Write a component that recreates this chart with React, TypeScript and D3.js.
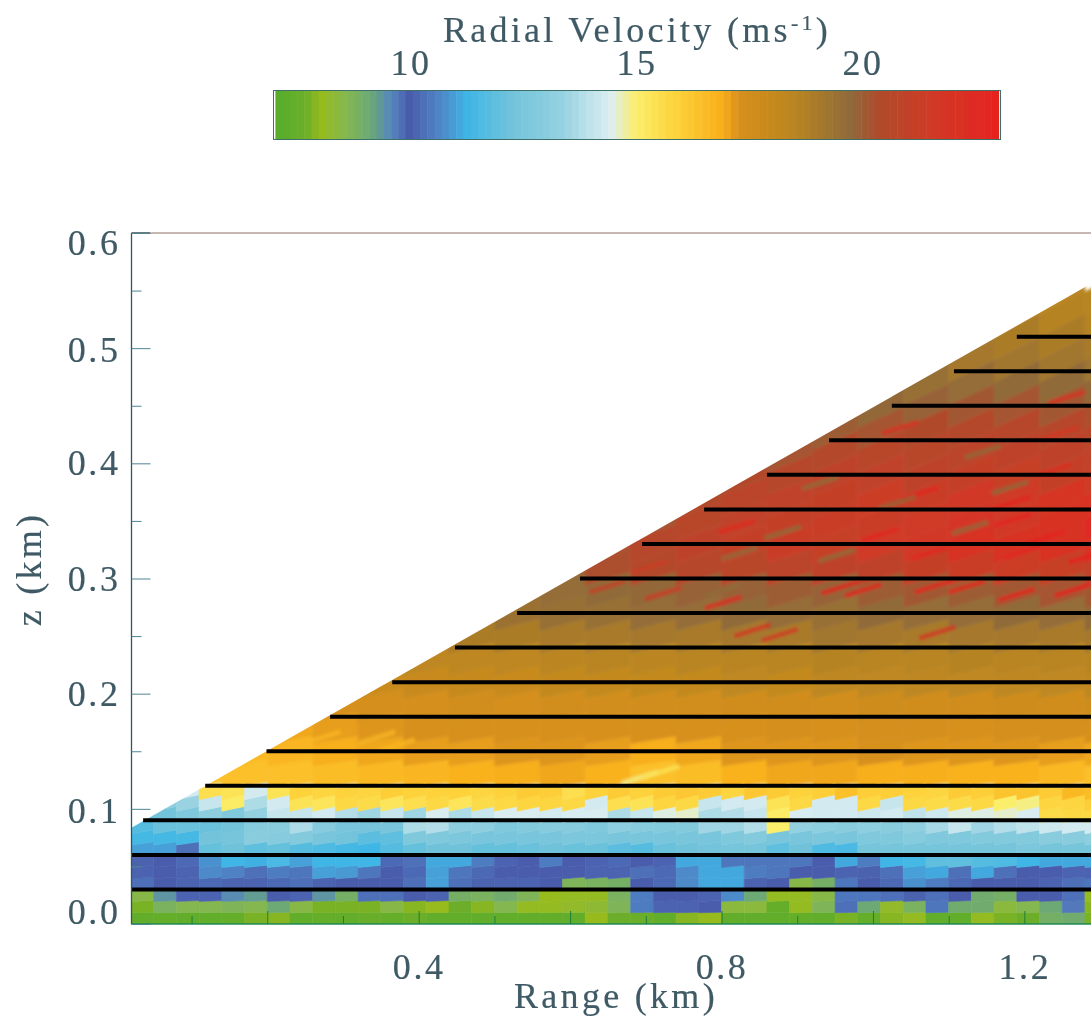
import React, { useEffect, useRef } from 'react';
import * as d3 from 'd3';

const WIDTH = 1091;
const HEIGHT = 1017;

// colour table
const cbStops = [7, 7.6, 7.91, 8.47, 9.04, 9.49, 9.88, 10.5, 11.18, 12.08, 13.2, 14.34, 14.9, 15.8, 16.82, 17.16, 18.4, 19.64, 20.3, 21.45, 22.9];
const cbColors = ['#58ad2c', '#6cae2a', '#98bb1a', '#85b84e', '#6aa878', '#5585c0', '#4a5cab', '#4f82c4', '#3fb6e6', '#6fc2da', '#93d0e0', '#dceef2', '#fbee6a', '#fdd23a', '#f8ae1a', '#d8901e', '#b98520', '#8f6a3a', '#b04a2c', '#d03a26', '#e6231f'];
const cbTicks = [10, 15, 20];

const xMajor = [0.2, 0.4, 0.6, 0.8, 1.0, 1.2];
const xMinor = [0.1, 0.3, 0.5, 0.7, 0.9, 1.1, 1.3];
const xLabels = [0.4, 0.8, 1.2];
const yMajor = [0, 0.1, 0.2, 0.3, 0.4, 0.5, 0.6];
const yMinor = [0.05, 0.15, 0.25, 0.35, 0.45, 0.55];
const yLabelShift = [-12, 2, 0, 0, 0, 2, 10];

// flight legs: height and where each one starts
const legZ = [0.03, 0.06, 0.09, 0.12, 0.15, 0.18, 0.21, 0.24, 0.27, 0.3, 0.33, 0.36, 0.39, 0.42, 0.45, 0.48, 0.51];
const legStart = [0.02, 0.02, 0.036, 0.118, 0.199, 0.283, 0.365, 0.448, 0.53, 0.613, 0.695, 0.777, 0.86, 0.942, 1.025, 1.107, 1.19];

const edgeRange = [0.02, 1.288];
const edgeZ = [0.0833, 0.556];

// low part: 0.03 km range bins, 0.01 km rows, bottom row first
const lowRangeStep = 0.03;
const lowZStep = 0.01;
const lowRows = [
  [7.3, 7.4, 7.3, 7.3, 7.4, 7.7, 7.8, 7.3, 7.4, 7.3, 7.5, 7.4, 7.6, 7.3, 7.3, 7.3, 7.3, 7.3, 7.3, 7.3, 7.9, 7.6, 7.6, 7.3, 7.8, 7.9, 7.3, 7.3, 7.3, 7.4, 7.3, 7.7, 7.4, 7.8, 8.0, 7.3, 7.3, 8.0, 7.7, 7.6, 8.8, 8.9, 7.7],
  [7.7, 8.7, 8.5, 8.5, 8.6, 8.5, 9.0, 8.4, 7.7, 7.7, 7.7, 8.4, 7.8, 7.9, 7.6, 7.8, 8.5, 8.0, 8.0, 8.1, 8.2, 8.6, 10.4, 10.0, 10.0, 9.9, 8.3, 8.3, 7.4, 8.0, 8.6, 10.2, 9.0, 8.1, 8.7, 10.3, 8.9, 8.9, 8.3, 8.5, 9.0, 9.6, 7.8],
  [8.4, 9.3, 10.0, 10.0, 9.4, 9.2, 9.9, 10.0, 9.3, 8.8, 10.2, 10.2, 9.9, 10.0, 8.8, 8.7, 8.9, 8.6, 7.9, 8.0, 8.0, 8.7, 10.4, 9.9, 9.9, 10.0, 10.6, 9.0, 8.0, 8.0, 8.4, 10.3, 10.3, 10.2, 9.8, 10.2, 9.9, 8.9, 8.8, 9.9, 9.9, 10.2, 8.0],
  [10.2, 9.9, 10.0, 10.1, 10.0, 10.0, 10.1, 10.2, 10.0, 9.9, 9.9, 9.9, 10.2, 10.9, 10.2, 10.0, 10.0, 10.0, 9.9, 8.6, 8.7, 8.8, 9.9, 10.1, 10.6, 11.0, 11.0, 10.0, 9.9, 8.4, 8.8, 10.3, 9.9, 10.1, 10.7, 10.4, 10.1, 9.9, 9.9, 9.9, 10.0, 10.2, 10.3],
  [10.0, 9.9, 10.0, 10.6, 10.5, 10.2, 10.4, 10.3, 10.9, 10.8, 10.3, 9.9, 10.1, 10.9, 10.3, 10.1, 9.9, 9.9, 9.9, 9.9, 10.0, 10.0, 10.2, 10.1, 10.6, 11.0, 11.0, 10.4, 10.3, 9.9, 9.9, 10.0, 9.8, 10.2, 10.9, 11.0, 10.2, 11.0, 10.2, 9.9, 9.9, 10.0, 10.0],
  [9.8, 9.9, 10.1, 10.7, 11.2, 11.1, 11.4, 10.9, 11.2, 11.2, 11.2, 10.1, 10.2, 11.0, 11.0, 10.4, 10.0, 9.9, 10.4, 9.9, 10.0, 10.1, 9.9, 10.0, 11.0, 11.0, 10.3, 10.3, 10.3, 10.3, 9.9, 11.0, 10.4, 11.2, 11.3, 11.8, 11.8, 11.6, 11.5, 11.2, 11.0, 11.0, 11.0],
  [10.9, 10.9, 10.2, 11.9, 12.1, 11.8, 11.9, 11.6, 11.5, 11.3, 11.2, 11.6, 11.9, 12.1, 12.1, 11.9, 11.9, 12.0, 12.1, 12.0, 12.0, 11.7, 11.6, 12.0, 12.1, 12.2, 12.3, 12.3, 11.8, 12.1, 11.5, 11.4, 12.3, 12.3, 12.3, 12.3, 12.3, 12.3, 12.3, 12.5, 12.3, 12.3, 12.3],
  [11.3, 11.3, 11.3, 12.2, 12.3, 12.9, 12.8, 12.7, 12.4, 12.2, 11.7, 11.8, 12.6, 12.6, 12.5, 12.4, 12.4, 12.4, 12.4, 12.5, 12.5, 12.4, 12.4, 12.4, 12.4, 12.4, 12.6, 12.7, 12.4, 12.4, 12.5, 12.4, 12.6, 12.6, 12.8, 12.6, 12.6, 12.7, 12.7, 12.7, 12.9, 12.9, 13.0],
  [11.6, 12.0, 12.0, 12.0, 12.2, 12.8, 12.9, 13.6, 12.8, 12.4, 12.3, 12.4, 13.6, 13.7, 13.0, 13.0, 12.6, 12.7, 12.8, 12.8, 12.6, 13.0, 12.8, 12.7, 12.7, 13.4, 13.4, 13.7, 14.9, 13.2, 13.0, 12.9, 13.0, 12.9, 13.1, 13.5, 14.0, 13.4, 13.7, 13.9, 14.1, 14.2, 14.2],
  [12.0, 12.2, 12.6, 13.0, 12.6, 13.2, 14.0, 14.0, 14.2, 13.7, 13.4, 14.0, 13.4, 14.3, 13.6, 14.0, 14.3, 14.3, 14.2, 14.3, 14.3, 13.6, 14.0, 14.4, 14.5, 13.6, 13.7, 14.0, 15.0, 14.3, 14.2, 14.2, 14.1, 14.2, 13.9, 14.1, 14.4, 14.4, 14.5, 14.3, 15.5, 15.6, 15.6],
  [null, 13.0, 13.3, 14.0, 15.0, 13.6, 14.2, 15.3, 15.2, 15.6, 15.5, 15.2, 15.4, 15.6, 15.2, 15.5, 15.6, 15.7, 15.7, 15.6, 14.2, 15.4, 15.3, 15.7, 15.6, 14.0, 14.2, 14.2, 15.3, 15.6, 14.2, 14.2, 15.6, 14.0, 15.6, 15.5, 15.5, 15.6, 14.9, 14.8, 15.7, 15.7, 15.9],
  [null, null, 14.2, 15.4, 15.3, 14.2, 15.3, 15.8, 15.7, 15.8, 15.7, 15.9, 15.8, 15.8, 15.8, 15.7, 15.8, 16.0, 15.9, 15.4, 15.8, 16.0, 15.8, 16.0, 16.1, 16.0, 15.7, 16.1, 16.0, 15.8, 15.9, 16.3, 15.9, 15.9, 15.8, 15.7, 16.0, 15.9, 16.2, 16.2, 16.0, 16.5, 16.4],
];

// upper part: 0.06 km range bins, 0.02 km rows from z = 0.12
const upRangeStep = 0.06;
const upZStep = 0.02;
const upZStart = 0.12;
const upRows = [
  [16.2, 16.2, 16.3, 16.3, 16.4, 16.5, 16.6, 16.7, 16.8, 16.9, 16.7, 16.3, 16.4, 16.7, 16.9, 16.9, 16.8, 16.8, 16.7, 16.7, 16.5, 16.3],
  [null, 16.4, 16.5, 16.6, 16.8, 16.9, 17.0, 17.0, 17.1, 17.1, 17.0, 16.8, 16.9, 17.1, 17.1, 17.1, 17.2, 17.1, 17.1, 17.1, 17.0, 16.9],
  [null, null, 16.8, 16.9, 17.0, 17.1, 17.2, 17.2, 17.2, 17.2, 17.2, 17.2, 17.2, 17.2, 17.3, 17.2, 17.3, 17.3, 17.2, 17.3, 17.3, 17.2],
  [null, null, null, 17.2, 17.2, 17.3, 17.3, 17.4, 17.3, 17.4, 17.4, 17.4, 17.4, 17.5, 17.5, 17.4, 17.6, 17.5, 17.5, 17.6, 17.5, 17.6],
  [null, null, null, null, 17.6, 17.7, 17.8, 17.9, 17.8, 18.0, 18.0, 18.0, 18.0, 18.1, 18.0, 18.2, 18.1, 18.2, 18.1, 18.2, 18.1, 18.2],
  [null, null, null, null, null, 18.1, 18.2, 18.2, 18.2, 18.3, 18.4, 18.3, 18.4, 18.4, 18.4, 18.5, 18.4, 18.4, 18.5, 18.4, 18.4, 18.4],
  [null, null, null, null, null, null, 18.7, 18.8, 18.8, 18.9, 18.9, 19.0, 18.9, 19.0, 18.9, 19.1, 19.0, 18.9, 19.0, 19.0, 18.9, 19.0],
  [null, null, null, null, null, null, 19.2, 19.3, 19.3, 19.4, 19.4, 19.5, 19.5, 19.6, 19.5, 19.4, 19.6, 19.5, 19.5, 19.6, 19.5, 19.6],
  [null, null, null, null, null, null, null, 19.4, 19.5, 19.5, 19.6, 19.7, 19.8, 19.8, 19.9, 19.8, 19.9, 20.0, 19.9, 20.0, 20.1, 20.0],
  [null, null, null, null, null, null, null, null, 19.8, 20.0, 20.2, 20.4, 20.5, 20.6, 20.7, 20.8, 20.8, 21.0, 21.2, 21.3, 21.1, 20.9],
  [null, null, null, null, null, null, null, null, null, 19.9, 20.2, 20.5, 20.8, 21.0, 21.2, 21.1, 21.4, 21.5, 21.9, 22.0, 21.9, 22.0],
  [null, null, null, null, null, null, null, null, null, null, 19.8, 20.1, 20.6, 20.9, 21.0, 21.2, 21.2, 21.4, 21.7, 21.6, 21.9, 22.4],
  [null, null, null, null, null, null, null, null, null, null, null, 19.9, 20.3, 20.7, 20.9, 21.0, 21.3, 21.2, 21.5, 21.4, 21.8, 22.0],
  [null, null, null, null, null, null, null, null, null, null, null, null, 19.9, 20.3, 20.5, 20.8, 20.9, 20.8, 21.0, 21.1, 21.0, 21.3],
  [null, null, null, null, null, null, null, null, null, null, null, null, null, 19.8, 20.1, 20.4, 20.6, 20.6, 20.7, 20.8, 20.8, 20.9],
  [null, null, null, null, null, null, null, null, null, null, null, null, null, null, 19.7, 19.9, 20.1, 20.3, 20.4, 20.5, 20.5, 20.6],
  [null, null, null, null, null, null, null, null, null, null, null, null, null, null, null, 19.5, 19.7, 19.8, 20.0, 20.1, 20.0, 20.2],
  [null, null, null, null, null, null, null, null, null, null, null, null, null, null, null, null, 19.2, 19.4, 19.5, 19.6, 19.6, 19.7],
  [null, null, null, null, null, null, null, null, null, null, null, null, null, null, null, null, null, 18.9, 19.0, 19.1, 19.1, 19.2],
  [null, null, null, null, null, null, null, null, null, null, null, null, null, null, null, null, null, null, 18.6, 18.8, 18.8, 18.9],
  [null, null, null, null, null, null, null, null, null, null, null, null, null, null, null, null, null, null, null, 18.4, 18.5, 18.5],
  [null, null, null, null, null, null, null, null, null, null, null, null, null, null, null, null, null, null, null, null, 18.3, 18.4],
];

// thin streaks that stand out from the upper field
const streakRange = [1.062, 1.185, 0.82, 1.009, 1.185, 1.23, 1.198, 1.075, 0.956, 0.987, 1.079, 1.124, 1.283, 1.19, 1.264, 0.802, 0.841, 0.877, 1.085, 1.036, 1.256, 1.247, 1.238, 0.881, 0.952, 1.128, 0.824, 0.93, 1.181, 1.032, 1.145, 0.802, 0.705, 0.723, 0.649, 0.692, 0.72, 0.345, 0.273, 0.371];
const streakZ = [0.374, 0.366, 0.345, 0.338, 0.351, 0.336, 0.323, 0.322, 0.292, 0.29, 0.293, 0.293, 0.319, 0.286, 0.29, 0.279, 0.255, 0.251, 0.253, 0.431, 0.457, 0.426, 0.394, 0.34, 0.32, 0.344, 0.322, 0.383, 0.379, 0.366, 0.41, 0.29, 0.31, 0.287, 0.293, 0.127, 0.132, 0.162, 0.162, 0.155];
const streakV = [22.6, 22.6, 22.4, 22.6, 22.6, 22.8, 22.6, 22.6, 22.6, 22.6, 22.6, 22.8, 22.9, 22.8, 22.9, 22.2, 21.6, 21.4, 21.6, 21.8, 21.8, 21.6, 22.0, 19.6, 19.6, 19.7, 19.6, 19.6, 19.7, 19.8, 19.7, 19.6, 21.2, 21.2, 21.0, 14.8, 15.3, 16.6, 16.6, 16.6];

const x = d3.scaleLinear().domain([0.02, 1.288]).range([131, 1091]);
const y = d3.scaleLinear().domain([0, 0.6]).range([924, 233]);
const cbX = d3.scaleLinear().domain([10, 20]).range([411, 863]);
const color = d3.scaleLinear<string>().domain(cbStops).range(cbColors).interpolate(d3.interpolateRgb).clamp(true);

const INK = '#3f5a65';
const FONT = '"Liberation Serif", serif';
const FONT_SIZE = 36;
const outline = d3.line();

// cells lean upward to the right, more so the higher they sit
function cellPath(r0: number, r1: number, z0: number, z1: number) {
  const lean = 0.04;
  return outline([
    [x(r0), y(z0 * (1 - lean / 2))],
    [x(r1), y(z0 * (1 + lean / 2))],
    [x(r1), y(z1 * (1 + lean / 2))],
    [x(r0), y(z1 * (1 - lean / 2))],
  ]) + 'Z';
}

function cellsFrom(rows: (number | null)[][], rangeStep: number, zStep: number, zStart: number) {
  return rows.flatMap((row, i) => {
    // bins outside the scan are clipped away, they only borrow the first real value
    const first = row.find(v => v !== null) as number;
    return row.map((v, j) => {
      const value = v === null ? first : v;
      const r0 = 0.02 + j * rangeStep;
      const z0 = zStart + i * zStep;
      const d = cellPath(r0, r0 + rangeStep, z0, z0 + zStep);
      return <path key={`${zStart}-${i}-${j}`} d={d} fill={color(value)} stroke={color(value)} strokeWidth={0.6} />;
    });
  });
}

function styleLabels(sel: any) {
  sel.attr('fill', INK)
    .attr('stroke', INK)
    .attr('stroke-width', 0.2)
    .style('font-family', FONT)
    .style('font-size', FONT_SIZE + 'px')
    .style('letter-spacing', '2.6px');
}

const App = () => {
  const leftRef = useRef<SVGGElement>(null);
  const leftMinorRef = useRef<SVGGElement>(null);
  const bottomRef = useRef<SVGGElement>(null);
  const bottomMinorRef = useRef<SVGGElement>(null);

  useEffect(() => {
    const left = d3.select(leftRef.current);
    left.call(d3.axisLeft(y).tickValues(yMajor).tickSize(-19).tickPadding(11).tickFormat(d3.format('.1f')) as any);
    left.select('.domain').remove();
    left.selectAll('line').attr('stroke', '#4f8494').attr('stroke-width', 1);
    styleLabels(left.selectAll('text'));
    left.selectAll('text').attr('transform', (_d, i) => `translate(0,${yLabelShift[i]})`);

    const leftMinor = d3.select(leftMinorRef.current);
    leftMinor.call(d3.axisLeft(y).tickValues(yMinor).tickSize(-10).tickFormat(() => '') as any);
    leftMinor.select('.domain').remove();
    leftMinor.selectAll('line').attr('stroke', '#4f8494').attr('stroke-width', 1);

    const bottom = d3.select(bottomRef.current);
    bottom.call(d3.axisBottom(x).tickValues(xMajor).tickSize(-13).tickPadding(29)
      .tickFormat(d => (xLabels.includes(+d) ? d3.format('.1f')(d as number) : '')) as any);
    bottom.select('.domain').remove();
    bottom.selectAll('line').attr('stroke', '#1c7f3c').attr('stroke-width', 1);
    styleLabels(bottom.selectAll('text'));

    const bottomMinor = d3.select(bottomMinorRef.current);
    bottomMinor.call(d3.axisBottom(x).tickValues(xMinor).tickSize(-8).tickFormat(() => '') as any);
    bottomMinor.select('.domain').remove();
    bottomMinor.selectAll('line').attr('stroke', '#1c7f3c').attr('stroke-width', 1);
  }, []);

  const wedge = outline([
    [x(edgeRange[0]), y(0)],
    [x(edgeRange[0]), y(edgeZ[0])],
    [x(edgeRange[1]), y(edgeZ[1])],
    [x(edgeRange[1]), y(0)],
  ]) + 'Z';

  const barValues = d3.range(7, 23, 0.16);
  const barStep = cbX(0.16) - cbX(0);
  const textProps = { fill: INK, stroke: INK, strokeWidth: 0.2, fontFamily: FONT, fontSize: FONT_SIZE, letterSpacing: 3.3 };

  return (
    <svg width={WIDTH} height={HEIGHT} style={{ position: 'absolute', left: 0, top: 0, background: '#fff' }}>
      <defs>
        <clipPath id="wedge"><path d={wedge} /></clipPath>
        <filter id="soft" filterUnits="userSpaceOnUse" x="0" y="0" width={WIDTH} height={HEIGHT}><feGaussianBlur stdDeviation="0.45" /></filter>
        <filter id="softer" filterUnits="userSpaceOnUse" x="0" y="0" width={WIDTH + 60} height={HEIGHT}><feGaussianBlur stdDeviation="1.6" /></filter>
      </defs>
      <g filter="url(#soft)">
        {/* colour bar */}
        <text x={637} y={42} textAnchor="middle" {...textProps}>
          Radial Velocity (ms<tspan dy={-12} fontSize={22}>-1</tspan><tspan dy={12}>)</tspan>
        </text>
        {cbTicks.map(t => (
          <text key={t} x={cbX(t)} y={75} textAnchor="middle" {...textProps} letterSpacing={2.6}>{t}</text>
        ))}
        {barValues.map(v => (
          <rect key={v} x={cbX(v)} y={90} width={barStep + 0.5} height={50} fill={color(v)} />
        ))}
        <rect x={273.5} y={90.5} width={727} height={49} fill="none" stroke="#3e6f68" strokeWidth={1} />

        {/* field */}
        <g clipPath="url(#wedge)">
          <g filter="url(#softer)">
            {cellsFrom(upRows, upRangeStep, upZStep, upZStart)}
            {streakV.map((v, i) => (
              <line
                key={i}
                x1={x(streakRange[i] - 0.024)}
                x2={x(streakRange[i] + 0.024)}
                y1={y(streakZ[i] - 0.005)}
                y2={y(streakZ[i] + 0.005)}
                stroke={color(v)}
                strokeWidth={5}
                opacity={0.8}
              />
            ))}
          </g>
          {cellsFrom(lowRows, lowRangeStep, lowZStep, 0)}
        </g>

        {/* flight legs */}
        {legZ.map((z, i) => (
          <line key={z} x1={x(legStart[i])} x2={x(1.3)} y1={y(z)} y2={y(z)} stroke="#000" strokeWidth={4} />
        ))}

        {/* frame and axes */}
        <line x1={131.5} x2={WIDTH} y1={233} y2={233} stroke="#8d6f66" strokeWidth={1} />
        <line x1={131.5} x2={150} y1={233} y2={233} stroke="#3a4f55" strokeWidth={1.2} />
        <line x1={131.5} x2={131.5} y1={233} y2={924} stroke="#31555e" strokeWidth={1.3} />
        <line x1={131} x2={WIDTH} y1={924} y2={924} stroke="#1f8a55" strokeWidth={1.4} />
        <g ref={leftRef} transform="translate(131.5,0)" />
        <g ref={leftMinorRef} transform="translate(131.5,0)" />
        <g ref={bottomRef} transform="translate(0,924)" />
        <g ref={bottomMinorRef} transform="translate(0,924)" />

        <text x={616} y={1008} textAnchor="middle" {...textProps}>Range (km)</text>
        <text transform="translate(41,569) rotate(-90)" textAnchor="middle" {...textProps}>z (km)</text>
      </g>
    </svg>
  );
};

export default App;
